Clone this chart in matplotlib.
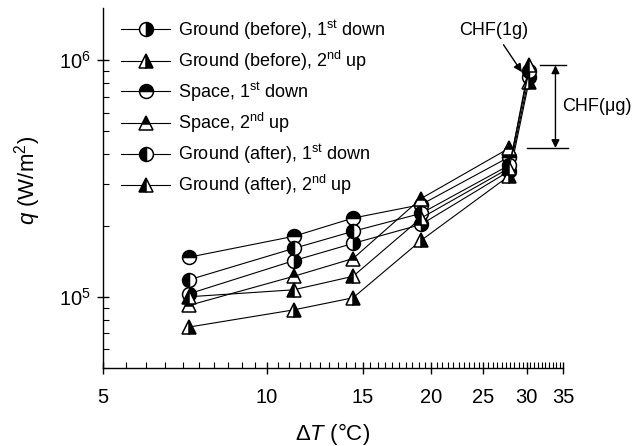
import numpy as np
import matplotlib
matplotlib.use('Agg')
import matplotlib.pyplot as plt
from matplotlib.ticker import FixedLocator, NullFormatter, LogLocator

plt.rcParams['font.family'] = ['Liberation Sans', 'DejaVu Sans']
plt.rcParams['mathtext.fontset'] = 'custom'
plt.rcParams['mathtext.rm'] = 'Liberation Sans'
plt.rcParams['mathtext.it'] = 'Liberation Sans:italic'
plt.rcParams['mathtext.bf'] = 'Liberation Sans:bold'

# wall superheat dT (deg C)
dT_space = [7.2, 11.2, 14.4, 19.2, 27.9]
dT_ground = [7.2, 11.2, 14.4, 19.2, 27.9, 30.3]

# heat flux q (W/m2)
q_gb_down = [1.03e5, 1.42e5, 1.68e5, 2.02e5, 3.40e5, 8.5e5]
q_gb_up = [7.45e4, 8.8e4, 9.9e4, 1.73e5, 3.25e5, 8.1e5]
q_sp_down = [1.47e5, 1.80e5, 2.15e5, 2.45e5, 3.90e5]
q_sp_up = [9.2e4, 1.22e5, 1.45e5, 2.60e5, 4.25e5]
q_ga_down = [1.18e5, 1.60e5, 1.89e5, 2.25e5, 3.60e5, 9.0e5]
q_ga_up = [1.00e5, 1.07e5, 1.22e5, 2.15e5, 3.50e5, 9.5e5]

labels = ['Ground (before), 1$^{\\rm st}$ down',
          'Ground (before), 2$^{\\rm nd}$ up',
          'Space, 1$^{\\rm st}$ down',
          'Space, 2$^{\\rm nd}$ up',
          'Ground (after), 1$^{\\rm st}$ down',
          'Ground (after), 2$^{\\rm nd}$ up']

xticks = [5, 10, 15, 20, 25, 30, 35]

fig = plt.figure(figsize=(6.32, 4.46), dpi=100)
ax = fig.add_axes([103/632, 78/446, 460/632, 360/446])

series = [
    (dT_ground, q_gb_down, 'o', 'right'),
    (dT_ground, q_gb_up, '^', 'right'),
    (dT_space, q_sp_down, 'o', 'top'),
    (dT_space, q_sp_up, '^', 'top'),
    (dT_ground, q_ga_down, 'o', 'left'),
    (dT_ground, q_ga_up, '^', 'left'),
]
for (x, y, m, fs), lab in zip(series, labels):
    ax.plot(x, y, '-', color='k', lw=0.8, marker=m, ms=10.5 if m == '^' else 10,
            fillstyle=fs, mfc='k', mfcalt='w', mec='k', mew=1.1, label=lab)

ax.set_xscale('log')
ax.set_yscale('log')
ax.set_xlim(5, 35)
ax.set_ylim(5e4, 1.66e6)

ax.xaxis.set_major_locator(FixedLocator(xticks))
ax.xaxis.set_major_formatter(plt.FixedFormatter([str(t) for t in xticks]))
ax.xaxis.set_minor_locator(FixedLocator(np.arange(5, 35.01, 0.5)))
ax.xaxis.set_minor_formatter(NullFormatter())
ax.yaxis.set_major_locator(LogLocator(base=10))
ax.yaxis.set_minor_locator(LogLocator(base=10, subs=np.arange(2, 10)))
ax.yaxis.set_minor_formatter(NullFormatter())

ax.tick_params(which='major', direction='inout', length=9, width=1, labelsize=14.5)
ax.tick_params(axis='x', which='major', pad=10)
ax.tick_params(axis='y', which='major', pad=4)
ax.tick_params(which='minor', direction='in', length=4, width=0.8)
ax.spines['top'].set_visible(False)
ax.spines['right'].set_visible(False)
for s in ['left', 'bottom']:
    ax.spines[s].set_linewidth(1)

ax.set_xlabel('$\\mathit{ΔT}$ (°C)', fontsize=16, labelpad=10)
ax.set_ylabel('$\\mathit{q}$ (W/m$^2$)', fontsize=16, labelpad=12)
ax.yaxis.label.set_y(0.522)

ax.legend(loc='upper left', bbox_to_anchor=(0.04, 0.972), frameon=False,
          fontsize=13, numpoints=1, handlelength=2.7, handletextpad=0.45,
          labelspacing=0.4, borderpad=0, borderaxespad=0)

# CHF annotations
chf_1g = max(q_ga_up[-1], q_gb_up[-1])
chf_ug = max(q_sp_up)
ax.annotate('CHF(1g)', xy=(29.4, 8.9e5), xytext=(26.1, 1.34e6),
            ha='center', va='center', fontsize=13,
            arrowprops=dict(arrowstyle='-|>', color='k', lw=1, mutation_scale=12,
                            shrinkA=3, shrinkB=0))
ax.plot([31.7, 35.5], [chf_1g, chf_1g], color='k', lw=1, clip_on=False)
ax.plot([30.0, 35.7], [chf_ug, chf_ug], color='k', lw=1, clip_on=False)
ax.annotate('', xy=(33.9, chf_1g), xytext=(33.9, chf_ug),
            arrowprops=dict(arrowstyle='<|-|>', color='k', lw=1, mutation_scale=12,
                            shrinkA=0, shrinkB=0), annotation_clip=False)
ax.text(34.9, np.sqrt(chf_1g * chf_ug), 'CHF(μg)', ha='left', va='center',
        fontsize=13, clip_on=False)

fig.savefig('out.png', dpi=100)
